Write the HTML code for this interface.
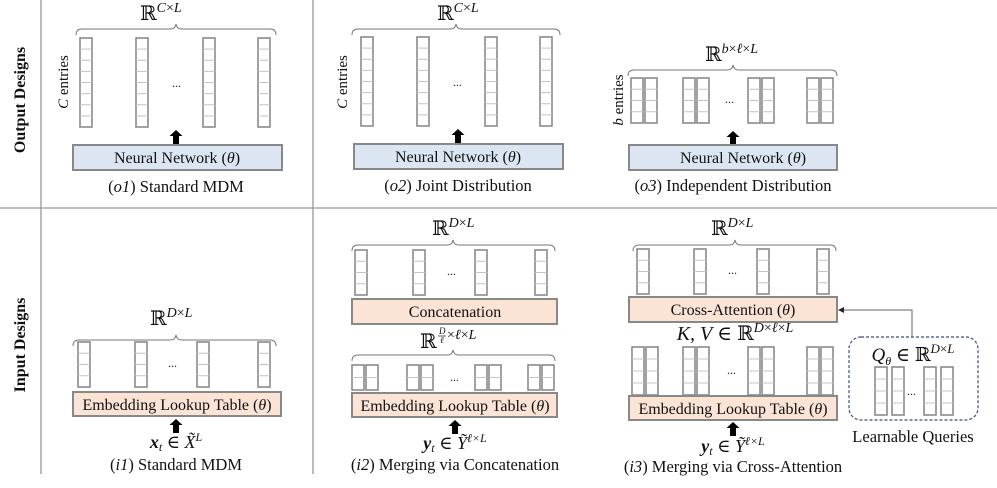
<!DOCTYPE html>
<html><head><meta charset="utf-8"><style>
html,body{margin:0;padding:0;background:#fff;}
svg{display:block;}
text{font-family:"Liberation Serif","DejaVu Serif",serif;fill:#111;}
.m{font-style:italic;}
.b{font-weight:bold;}
</style></head><body>
<svg width="997" height="488" viewBox="0 0 997 488" xmlns="http://www.w3.org/2000/svg">
<defs>
<g id="c8"><rect x="0" y="0" width="12" height="89" fill="#fff" stroke="#8a8a8a" stroke-width="1.6"/>
<path d="M0 11.1H12M0 22.2H12M0 33.4H12M0 44.5H12M0 55.6H12M0 66.8H12M0 77.9H12" stroke="#c4c4c4" stroke-width="1"/></g>
<g id="c4"><rect x="0" y="0" width="12" height="45" fill="#fff" stroke="#8a8a8a" stroke-width="1.6"/>
<path d="M0 11.25H12M0 22.5H12M0 33.75H12" stroke="#c4c4c4" stroke-width="1"/></g>
<g id="p4"><use href="#c4"/><use href="#c4" x="14"/></g>
<g id="c4t"><rect x="0" y="0" width="12" height="48" fill="#fff" stroke="#8a8a8a" stroke-width="1.6"/>
<path d="M0 12H12M0 24H12M0 36H12" stroke="#c4c4c4" stroke-width="1"/></g>
<g id="p4t"><use href="#c4t"/><use href="#c4t" x="14"/></g>
<g id="c2"><rect x="0" y="0" width="12" height="25" fill="#fff" stroke="#8a8a8a" stroke-width="1.6"/>
<path d="M0 12.5H12" stroke="#c4c4c4" stroke-width="1"/></g>
<g id="p2"><use href="#c2"/><use href="#c2" x="14"/></g>
<g id="arr"><path d="M-3 13V5H-6.5L0 -1L6.5 5H3V13Z" fill="#000"/></g>
</defs>

<g stroke="#999" stroke-width="1.3" fill="none">
<line x1="41" y1="0" x2="41" y2="474"/>
<line x1="313" y1="0" x2="313" y2="474"/>
<line x1="0" y1="208" x2="997" y2="208"/>
</g>
<text class="b" font-size="16" transform="translate(25,100) rotate(-90)" text-anchor="middle">Output Designs</text>
<text class="b" font-size="16" transform="translate(25,345) rotate(-90)" text-anchor="middle">Input Designs</text>

<g fill="none" stroke="#777" stroke-width="1">
<path d="M76 35Q76 29 82 29H171Q175 29 176 24Q177 29 181 29H270Q276 29 276 35"/>
<path d="M352 35Q352 29 358 29H451Q455 29 456 24Q457 29 461 29H554Q560 29 560 35"/>
<path d="M628 76Q628 70 634 70H728Q732 70 733 65Q734 70 738 70H831Q837 70 837 76"/>
<path d="M73 346Q73 340 79 340H171Q175 340 176 335Q177 340 181 340H270Q276 340 276 346"/>
<path d="M352 251Q352 245 358 245H448Q452 245 453 240Q454 245 458 245H549Q555 245 555 251"/>
<path d="M352 361Q352 355 358 355H448Q452 355 453 350Q454 355 458 355H549Q555 355 555 361"/>
<path d="M633 251Q633 245 639 245H730Q734 245 735 240Q736 245 740 245H830Q836 245 836 251"/>
</g>

<!-- o1 -->
<text font-size="20" x="140" y="20">ℝ<tspan class="m" font-size="14" dy="-8">C</tspan><tspan font-size="14">×</tspan><tspan class="m" font-size="14">L</tspan></text>
<text font-size="15" transform="translate(68,82) rotate(-90)" text-anchor="middle"><tspan class="m">C</tspan> entries</text>
<use href="#c8" x="80" y="38"/><use href="#c8" x="136" y="38"/><use href="#c8" x="203" y="38"/><use href="#c8" x="258" y="38"/>
<text font-size="12" x="172" y="87">...</text>
<use href="#arr" x="176" y="131"/>
<rect x="73" y="145" width="209" height="25" fill="#dce6f2" stroke="#888" stroke-width="2"/>
<text font-size="16" x="177" y="163" text-anchor="middle">Neural Network (<tspan class="m">θ</tspan>)</text>
<text font-size="16.5" x="176" y="192" text-anchor="middle">(<tspan class="m">o1</tspan>) Standard MDM</text>

<!-- o2 -->
<text font-size="20" x="437" y="20">ℝ<tspan class="m" font-size="14" dy="-8">C</tspan><tspan font-size="14">×</tspan><tspan class="m" font-size="14">L</tspan></text>
<text font-size="15" transform="translate(347,82) rotate(-90)" text-anchor="middle"><tspan class="m">C</tspan> entries</text>
<use href="#c8" x="361" y="37"/><use href="#c8" x="417" y="37"/><use href="#c8" x="485" y="37"/><use href="#c8" x="540" y="37"/>
<text font-size="12" x="453" y="86">...</text>
<use href="#arr" x="458" y="130"/>
<rect x="354" y="144" width="209" height="25" fill="#dce6f2" stroke="#888" stroke-width="2"/>
<text font-size="16" x="458" y="162" text-anchor="middle">Neural Network (<tspan class="m">θ</tspan>)</text>
<text font-size="16.5" x="458" y="191" text-anchor="middle">(<tspan class="m">o2</tspan>) Joint Distribution</text>

<!-- o3 -->
<text font-size="20" x="705" y="61">ℝ<tspan class="m" font-size="14" dy="-8">b</tspan><tspan font-size="14">×</tspan><tspan class="m" font-size="14">ℓ</tspan><tspan font-size="14">×</tspan><tspan class="m" font-size="14">L</tspan></text>
<text font-size="15" transform="translate(623,100) rotate(-90)" text-anchor="middle"><tspan class="m">b</tspan> entries</text>
<use href="#p4" x="631" y="78"/><use href="#p4" x="683" y="78"/><use href="#p4" x="748" y="78"/><use href="#p4" x="807" y="78"/>
<text font-size="12" x="725" y="103">...</text>
<use href="#arr" x="733" y="132"/>
<rect x="629" y="145" width="208" height="25" fill="#dce6f2" stroke="#888" stroke-width="2"/>
<text font-size="16" x="743" y="163" text-anchor="middle">Neural Network (<tspan class="m">θ</tspan>)</text>
<text font-size="16.5" x="733" y="191" text-anchor="middle">(<tspan class="m">o3</tspan>) Independent Distribution</text>

<!-- i1 -->
<text font-size="20" x="150" y="325">ℝ<tspan class="m" font-size="14" dy="-8">D</tspan><tspan font-size="14">×</tspan><tspan class="m" font-size="14">L</tspan></text>
<use href="#c4" x="78" y="342"/><use href="#c4" x="135" y="342"/><use href="#c4" x="197" y="342"/><use href="#c4" x="258" y="342"/>
<text font-size="12" x="168" y="367">...</text>
<rect x="73" y="392" width="208" height="24" fill="#fbe3d6" stroke="#888" stroke-width="2"/>
<text font-size="16" x="177" y="410" text-anchor="middle">Embedding Lookup Table (<tspan class="m">θ</tspan>)</text>
<use href="#arr" x="176" y="420"/>
<text font-size="18" x="176" y="448" text-anchor="middle"><tspan class="m" font-weight="bold">x</tspan><tspan class="m" font-size="12" dy="3">t</tspan><tspan dy="-3"> ∈ </tspan><tspan class="m">X̃</tspan><tspan class="m" font-size="12" dy="-7">L</tspan></text>
<text font-size="16.5" x="176" y="470" text-anchor="middle">(<tspan class="m">i1</tspan>) Standard MDM</text>

<!-- i2 -->
<text font-size="20" x="432" y="235">ℝ<tspan class="m" font-size="14" dy="-8">D</tspan><tspan font-size="14">×</tspan><tspan class="m" font-size="14">L</tspan></text>
<use href="#c4" x="355" y="250"/><use href="#c4" x="413" y="250"/><use href="#c4" x="475" y="250"/><use href="#c4" x="535" y="250"/>
<text font-size="12" x="447" y="275">...</text>
<rect x="352" y="299" width="205" height="25" fill="#fbe3d6" stroke="#888" stroke-width="2"/>
<text font-size="16" x="455" y="317" text-anchor="middle">Concatenation</text>
<text font-size="20" x="420" y="348">ℝ</text>
<text class="m" font-size="9" x="439" y="334">D</text>
<line x1="438" y1="336" x2="446" y2="336" stroke="#111" stroke-width="0.7"/>
<text class="m" font-size="9" x="440" y="343">ℓ</text>
<text font-size="14" x="447" y="339">×<tspan class="m">ℓ</tspan>×<tspan class="m">L</tspan></text>
<use href="#p2" x="352" y="365"/><use href="#p2" x="407" y="365"/><use href="#p2" x="475" y="365"/><use href="#p2" x="528" y="365"/>
<text font-size="12" x="450" y="381">...</text>
<rect x="352" y="393" width="205" height="24" fill="#fbe3d6" stroke="#888" stroke-width="2"/>
<text font-size="16" x="455" y="411" text-anchor="middle">Embedding Lookup Table (<tspan class="m">θ</tspan>)</text>
<use href="#arr" x="455" y="421"/>
<text font-size="18" x="455" y="449" text-anchor="middle"><tspan class="m" font-weight="bold">y</tspan><tspan class="m" font-size="12" dy="3">t</tspan><tspan dy="-3"> ∈ </tspan><tspan class="m">Ỹ</tspan><tspan class="m" font-size="12" dy="-7">ℓ×L</tspan></text>
<text font-size="16.5" x="455" y="470" text-anchor="middle">(<tspan class="m">i2</tspan>) Merging via Concatenation</text>

<!-- i3 -->
<text font-size="20" x="711" y="235">ℝ<tspan class="m" font-size="14" dy="-8">D</tspan><tspan font-size="14">×</tspan><tspan class="m" font-size="14">L</tspan></text>
<use href="#c4" x="637" y="249"/><use href="#c4" x="694" y="249"/><use href="#c4" x="757" y="249"/><use href="#c4" x="817" y="249"/>
<text font-size="12" x="728" y="274">...</text>
<rect x="629" y="297" width="208" height="25" fill="#fbe3d6" stroke="#888" stroke-width="2"/>
<text font-size="16" x="733" y="315" text-anchor="middle">Cross-Attention (<tspan class="m">θ</tspan>)</text>
<text font-size="20" x="735" y="340" text-anchor="middle"><tspan class="m">K, V</tspan> ∈ ℝ<tspan class="m" font-size="14" dy="-8">D</tspan><tspan font-size="14">×</tspan><tspan class="m" font-size="14">ℓ</tspan><tspan font-size="14">×</tspan><tspan class="m" font-size="14">L</tspan></text>
<use href="#p4t" x="632" y="347"/><use href="#p4t" x="683" y="347"/><use href="#p4t" x="748" y="347"/><use href="#p4t" x="807" y="347"/>
<text font-size="12" x="727" y="374">...</text>
<rect x="629" y="396" width="208" height="24" fill="#fbe3d6" stroke="#888" stroke-width="2"/>
<text font-size="16" x="733" y="414" text-anchor="middle">Embedding Lookup Table (<tspan class="m">θ</tspan>)</text>
<use href="#arr" x="733" y="423"/>
<text font-size="18" x="733" y="452" text-anchor="middle"><tspan class="m" font-weight="bold">y</tspan><tspan class="m" font-size="12" dy="3">t</tspan><tspan dy="-3"> ∈ </tspan><tspan class="m">Ỹ</tspan><tspan class="m" font-size="12" dy="-7">ℓ×L</tspan></text>
<text font-size="16.5" x="733" y="472" text-anchor="middle">(<tspan class="m">i3</tspan>) Merging via Cross-Attention</text>

<!-- queries -->
<path d="M912 337V310H842" fill="none" stroke="#666" stroke-width="1"/>
<path d="M838 310L844 307V313Z" fill="#222"/>
<rect x="849" y="337" width="129" height="83" rx="12" fill="none" stroke="#3d4d7c" stroke-width="1.2" stroke-dasharray="3,2"/>
<text font-size="19" x="913" y="361" text-anchor="middle"><tspan class="m">Q</tspan><tspan class="m" font-size="12" dy="4">θ</tspan><tspan dy="-4"> ∈ ℝ</tspan><tspan class="m" font-size="13" dy="-8">D</tspan><tspan font-size="13">×</tspan><tspan class="m" font-size="13">L</tspan></text>
<use href="#c4t" x="875" y="367"/><use href="#c4t" x="892" y="367"/><use href="#c4t" x="924" y="367"/><use href="#c4t" x="941" y="367"/>
<text font-size="12" x="907" y="395">...</text>
<text font-size="16.5" x="913" y="442" text-anchor="middle">Learnable Queries</text>
</svg>
</body></html>
